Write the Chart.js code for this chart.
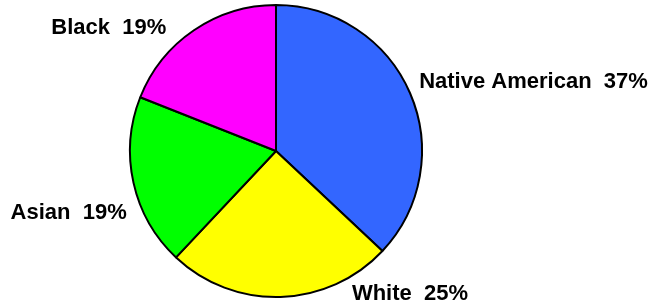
<!DOCTYPE html>
<html>
<head>
<meta charset="utf-8">
<script src="https://cdn.jsdelivr.net/npm/chart.js@4"></script>
<style>
  html, body { margin: 0; padding: 0; background: #fff; }
  #wrap { width: 655px; height: 306px; }
</style>
</head>
<body>
<div id="wrap"><canvas id="pie" width="655" height="306"></canvas></div>
<script>
// data
const categories = ["Native American", "White", "Asian", "Black"];
const shares = [37, 25, 19, 19];
const sliceColors = ["#3366ff", "#ffff00", "#00ff00", "#ff00ff"];

// nudges for the outside labels, relative to a point just past the rim
const labelNudge = [[0, -1], [71, -7], [3, 34], [-22, 12]];

const outsideLabels = {
  id: 'outsideLabels',
  afterDraw(chart) {
    const ctx = chart.ctx;
    const arcs = chart.getDatasetMeta(0).data;
    ctx.save();
    ctx.font = 'bold 22px "Liberation Sans", Arial, sans-serif';
    ctx.fillStyle = '#000';
    ctx.textBaseline = 'alphabetic';
    arcs.forEach((arc, i) => {
      const mid = (arc.startAngle + arc.endAngle) / 2;
      const r = arc.outerRadius + 10;
      const x = arc.x + Math.cos(mid) * r + labelNudge[i][0];
      const y = arc.y + Math.sin(mid) * r + labelNudge[i][1];
      ctx.textAlign = Math.cos(mid) < -0.1 ? 'right' : 'left';
      ctx.fillText(`${categories[i]}  ${shares[i]}%`, x, y);
    });
    ctx.restore();
  }
};

new Chart(document.getElementById("pie"), {
  type: "pie",
  data: {
    labels: categories,
    datasets: [{
      data: shares,
      backgroundColor: sliceColors,
      borderColor: "#000",
      borderWidth: 2
    }]
  },
  options: {
    responsive: false,
    animation: false,
    layout: { padding: { left: 129, right: 232, top: 4, bottom: 8 } },
    plugins: {
      legend: { display: false },
      tooltip: { enabled: false }
    }
  },
  plugins: [outsideLabels]
});
</script>
</body>
</html>
